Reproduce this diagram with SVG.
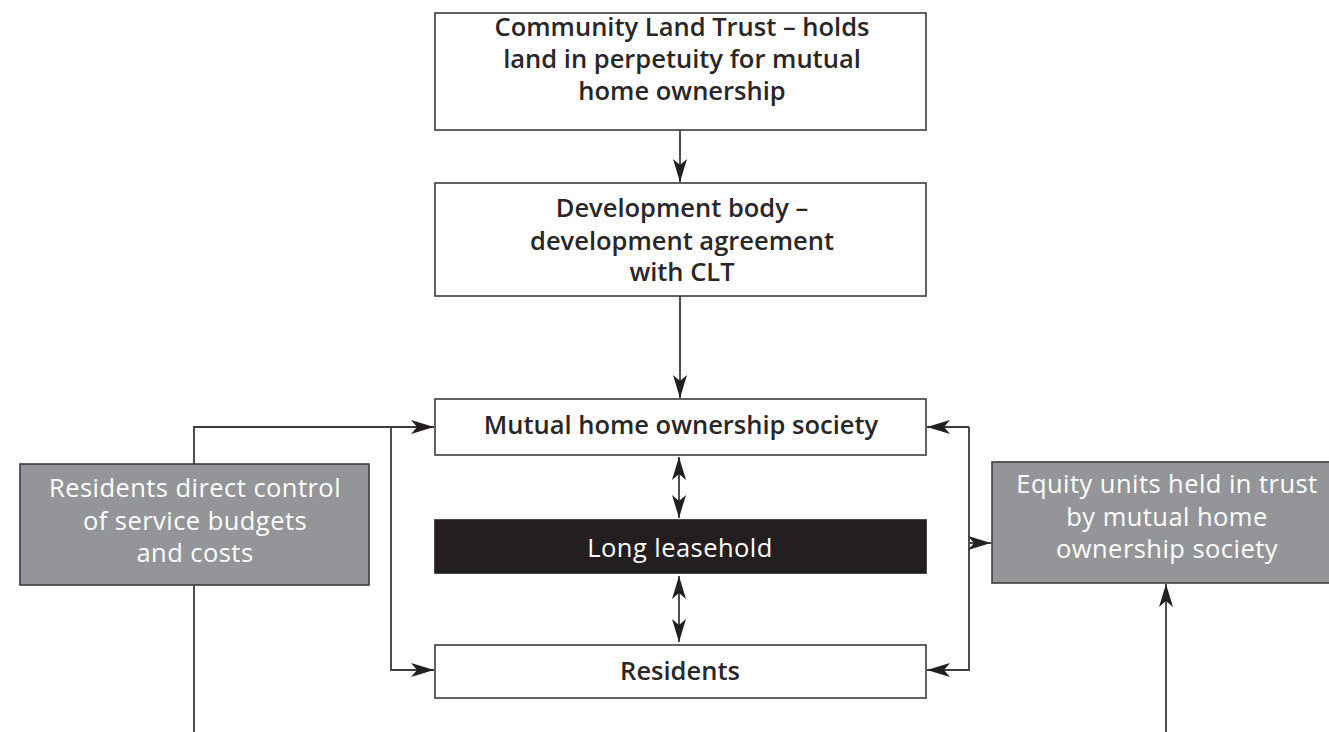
<svg xmlns="http://www.w3.org/2000/svg" width="1329" height="732" viewBox="0 0 1329 732">
  <style>
    .box { fill: #ffffff; stroke: #3c3c3c; stroke-width: 1.6; }
    .grey { fill: #939598; stroke: #3c3c3c; stroke-width: 1.6; }
    .black { fill: #231f20; stroke: #231f20; stroke-width: 1.6; }
    .t { font-family: "Open Sans", "Liberation Sans", sans-serif; font-size: 25.5px; font-weight: 600; fill: #2a2627; text-anchor: middle; }
    .tw { font-family: "Open Sans", "Liberation Sans", sans-serif; font-size: 25.5px; font-weight: 400; letter-spacing: 0.45px; fill: #ffffff; text-anchor: middle; }
    .link { fill: none; stroke: #3c3c3c; stroke-width: 1.8; }
  </style>
  <defs>
    <marker id="head" markerUnits="userSpaceOnUse" markerWidth="26" markerHeight="18" viewBox="-24 -9 26 18" refX="0" refY="0" orient="auto-start-reverse">
      <path d="M0,0 L-23,-7 L-17,0 L-23,7 Z" fill="#231f20"/>
    </marker>
  </defs>

  <rect width="1329" height="732" fill="#ffffff"/>

  <!-- connectors -->
  <g id="connectors">
    <line class="link" x1="680" y1="130" x2="680" y2="182" marker-end="url(#head)"/>
    <line class="link" x1="680" y1="296" x2="680" y2="398" marker-end="url(#head)"/>
    <line class="link" x1="679" y1="457" x2="679" y2="518" marker-start="url(#head)" marker-end="url(#head)"/>
    <line class="link" x1="679" y1="576" x2="679" y2="642" marker-start="url(#head)" marker-end="url(#head)"/>
    <!-- left bracket -->
    <polyline class="link" points="194,732 194,427 434,427" marker-end="url(#head)"/>
    <polyline class="link" points="391,427 391,670 434,670" marker-end="url(#head)"/>
    <!-- right bracket -->
    <polyline class="link" points="969,427 969,670 927,670" marker-end="url(#head)"/>
    <line class="link" x1="969" y1="427" x2="927" y2="427" marker-end="url(#head)"/>
    <line class="link" x1="969" y1="543" x2="991" y2="543" marker-end="url(#head)"/>
    <line class="link" x1="1166" y1="732" x2="1166" y2="584" marker-end="url(#head)"/>
  </g>

  <g id="clt">
    <rect class="box" x="435" y="13" width="491" height="117"/>
    <text class="t" x="682" y="36">Community Land Trust – holds</text>
    <text class="t" x="682" y="68">land in perpetuity for mutual</text>
    <text class="t" x="682" y="100">home ownership</text>
  </g>

  <g id="development-body">
    <rect class="box" x="435" y="183" width="491" height="113"/>
    <text class="t" x="682" y="217">Development body –</text>
    <text class="t" x="682" y="250">development agreement</text>
    <text class="t" x="682" y="281">with CLT</text>
  </g>

  <g id="mutual-society">
    <rect class="box" x="435" y="399" width="491" height="56"/>
    <text class="t" x="681" y="434">Mutual home ownership society</text>
  </g>

  <g id="long-leasehold">
    <rect class="black" x="435" y="520" width="491" height="53"/>
    <text class="tw" x="680" y="557">Long leasehold</text>
  </g>

  <g id="residents">
    <rect class="box" x="435" y="645" width="491" height="53"/>
    <text class="t" x="680" y="680">Residents</text>
  </g>

  <g id="residents-control">
    <rect class="grey" x="20" y="464" width="349" height="121"/>
    <text class="tw" x="195" y="497">Residents direct control</text>
    <text class="tw" x="195" y="530">of service budgets</text>
    <text class="tw" x="195" y="562">and costs</text>
  </g>

  <g id="equity-units">
    <rect class="grey" x="992" y="462" width="350" height="121"/>
    <text class="tw" x="1167" y="493">Equity units held in trust</text>
    <text class="tw" x="1167" y="526">by mutual home</text>
    <text class="tw" x="1167" y="558">ownership society</text>
  </g>
</svg>
